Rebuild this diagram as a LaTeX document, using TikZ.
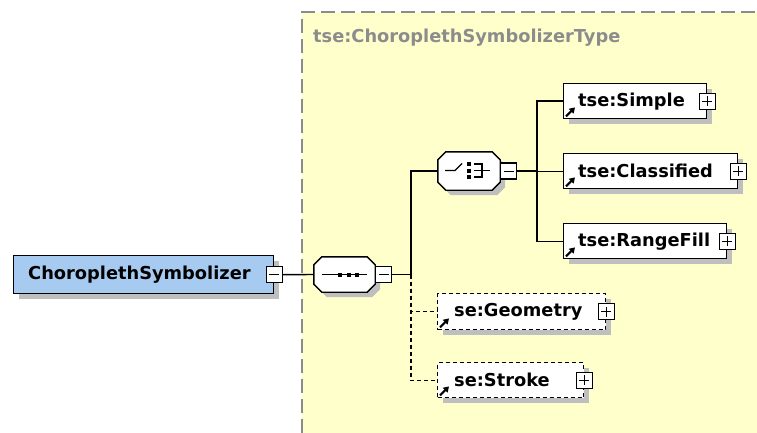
\documentclass[tikz,border=0pt]{standalone}
\usepackage{fontspec}
\setmainfont{DejaVu Sans}
\usetikzlibrary{shadows,arrows.meta}
\definecolor{bgy}{HTML}{FFFFCC}
\definecolor{elblue}{HTML}{A6CAF0}
\definecolor{shd}{HTML}{BFBFBF}
\definecolor{framec}{HTML}{8C8C8C}
\newcommand{\pmmark}[2]{% #1 node, #2 1=plus 0=minus
  \draw[line width=1pt] ([xshift=-5pt]#1.center) -- ([xshift=5pt]#1.center);
  \ifnum#2=1 \draw[line width=1pt] ([yshift=-5pt]#1.center) -- ([yshift=5pt]#1.center);\fi}
\newcommand{\refarrow}[1]{%
  \draw[line width=2pt,-{Triangle[length=5.5pt,width=6.5pt]}] ([shift={(3,-3)}]#1.south west) -- ([shift={(12,-12)}]#1.south west);}
\newcommand{\octpath}[2]{% node, chamfer
  ([xshift=#2]#1.north west) -- ([xshift=-#2]#1.north east) -- ([yshift=-#2]#1.north east) -- ([yshift=#2]#1.south east) -- ([xshift=-#2]#1.south east) -- ([xshift=#2]#1.south west) -- ([yshift=#2]#1.south west) -- ([yshift=-#2]#1.north west) -- cycle}
\begin{document}
\begin{tikzpicture}[x=1pt,y=-1pt,
  lbl/.style={font=\fontsize{17.8}{17.8}\selectfont\bfseries, anchor=west, inner sep=0},
  shd/.style={drop shadow={shadow xshift=5pt, shadow yshift=-5pt, opacity=1, fill=shd}},
  elem/.style={draw, fill=white, line width=1.4pt, anchor=north west, inner sep=0, shd},
  optelem/.style={elem, dash pattern=on 4pt off 3pt},
  pmbox/.style={draw, fill=white, line width=1.1pt, minimum size=16pt, inner sep=0},
  octbox/.style={inner sep=0},
  conn/.style={line width=1.4pt},
  optconn/.style={line width=1.4pt, dash pattern=on 4pt off 3pt}]
\useasboundingbox (0,0) rectangle (757,433);
\fill[white] (0,0) rectangle (757,433);
% type region
\fill[bgy] (302,12) rectangle (757,433);
\draw[framec, line width=2pt, dash pattern=on 14pt off 6pt] (302,433) -- (302,12) -- (757,12);
\node[lbl, text=framec] (typelbl) at (313,38) {tse:ChoroplethSymbolizerType};
% root element
\node[elem, fill=elblue, minimum width=260pt, minimum height=38pt] (root) at (13,255) {};
\node[lbl] (rootlbl) at ([xshift=15pt]root.west) {ChoroplethSymbolizer};
\node[pmbox] (rootm) at (root.east) {};
\pmmark{rootm}{0}
% sequence
\node[octbox, minimum width=61pt, minimum height=35pt] (seq) at (344.5,274.5) {};
\fill[shd, shift={(5,6)}] \octpath{seq}{8pt};
\draw[line width=1.4pt, fill=white] \octpath{seq}{8pt};
\node[pmbox, anchor=west] (seqm) at (seq.east) {};
\pmmark{seqm}{0}
\draw[conn] (322,274.5) -- (367,274.5);
\foreach \xx in {340,348.5,357} \fill (\xx-2,272.5) rectangle ++(4,4);
% choice
\node[octbox, minimum width=62pt, minimum height=38pt] (choice) at (469,171) {};
\fill[shd, shift={(5,6)}] \octpath{choice}{8pt};
\draw[line width=1.4pt, fill=white] \octpath{choice}{8pt};
\node[pmbox, anchor=west] (choicem) at (choice.east) {};
\pmmark{choicem}{0}
\draw[conn] (445,170.5) -- (455,170.5) -- (462,163.5);
\foreach \yy in {164,170.5,177} \fill (467,\yy-2) rectangle ++(4,4);
\draw[conn] (474,164) -- (482,164) -- (482,177) -- (474,177);
\draw[conn] (474,170.5) -- (490,170.5);
% child elements
\node[elem, minimum width=143pt, minimum height=35pt] (simple) at (563,83) {};
\node[lbl] (simplelbl) at ([xshift=15pt]simple.west) {tse:Simple};
\node[elem, minimum width=174pt, minimum height=35pt] (classified) at (563,153) {};
\node[lbl] (classifiedlbl) at ([xshift=15pt]classified.west) {tse:Classified};
\node[elem, minimum width=163pt, minimum height=35pt] (range) at (563,223) {};
\node[lbl] (rangelbl) at ([xshift=15pt]range.west) {tse:RangeFill};
\node[optelem, minimum width=168pt, minimum height=36pt] (geom) at (437,293) {};
\node[lbl] (geomlbl) at ([xshift=17pt]geom.west) {se:Geometry};
\node[optelem, minimum width=146pt, minimum height=35pt] (stroke) at (437,362) {};
\node[lbl] (strokelbl) at ([xshift=17pt]stroke.west) {se:Stroke};
\foreach \n in {simple,classified,range,geom,stroke} {
  \node[pmbox] (\n p) at (\n.east) {};
  \pmmark{\n p}{1}
  \refarrow{\n}
}
% connectors
\draw[conn] (rootm.east) -- (seq.west);
\coordinate (ss) at (411,274.5);
\draw[conn] (seqm.east) -- (ss);
\draw[conn] (ss) |- (choice.west);
\draw[optconn] (ss) |- (geom.west);
\draw[optconn] (ss) |- (stroke.west);
\coordinate (cs) at (537,171);
\draw[conn] (choicem.east) -- (cs);
\draw[conn] (simple.west) -| (cs |- range.west) -- (range.west);
\draw[conn] (classified.west) -- (cs |- classified.west);
\end{tikzpicture}
\end{document}
